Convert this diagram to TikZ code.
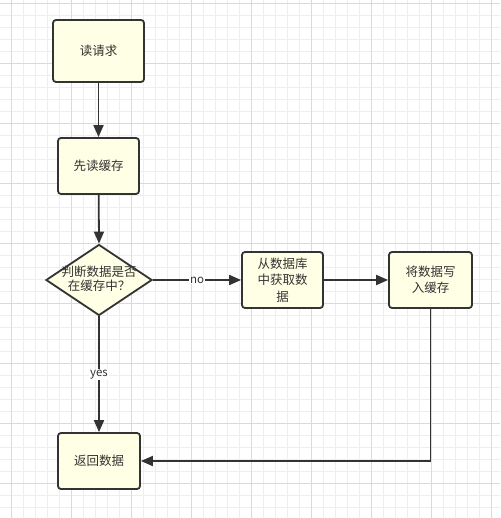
\documentclass[tikz,border=0pt]{standalone}
\usepackage{fontspec}
\setmainfont{Noto Sans CJK SC}
\usetikzlibrary{arrows.meta,shapes.geometric}
\definecolor{boxfill}{HTML}{FFFFE6}
\definecolor{ink}{HTML}{333333}
\definecolor{gridminor}{HTML}{EEEEEE}
\definecolor{gridmajor}{HTML}{DADADA}
\tikzset{
  box/.style={draw=ink, fill=boxfill, line width=1.8pt, rounded corners=3pt, inner sep=0pt, align=center, text=ink, font=\fontsize{12.5}{16.5}\selectfont},
  decision/.style={draw=ink, fill=boxfill, line width=1.8pt, diamond, inner sep=0pt, minimum width=106pt, minimum height=71pt},
  txt/.style={text=ink, align=center, inner sep=0pt, font=\fontsize{12.5}{14}\selectfont},
  conn/.style={draw=ink, line width=1.8pt, -{Triangle[length=12pt,width=10pt]}},
  lbl/.style={fill=white, text=ink, inner sep=1pt, font=\fontsize{11.5}{13}\selectfont}
}
\begin{document}
\begin{tikzpicture}[x=1pt,y=-1pt]
\useasboundingbox (0,0) rectangle (500,518);
\fill[white] (0,0) rectangle (500,518);
% grid
\foreach \i in {-1,...,41} {
  \draw[gridminor, line width=0.8pt] ({11.5+12*\i},0) -- ({11.5+12*\i},518);
}
\foreach \j in {0,...,43} {
  \draw[gridminor, line width=0.8pt] (0,{3+12*\j}) -- (500,{3+12*\j});
}
\foreach \i in {0,...,8} {
  \draw[gridmajor, line width=0.8pt] ({11.5+60*\i},0) -- ({11.5+60*\i},518);
}
\foreach \j in {0,...,8} {
  \draw[gridmajor, line width=0.8pt] (0,{3+60*\j}) -- (500,{3+60*\j});
}
% nodes
\node[box, minimum width=91pt, minimum height=62pt] (a) at (98.5,51) {读请求};
\node[box, minimum width=81pt, minimum height=56pt] (b) at (98.5,166) {先读缓存};
\node[decision] (q) at (99,280) {};
\node[txt] (qt) at (99,279) {判断数据是否\\在缓存中？};
\node[box, minimum width=81pt, minimum height=56pt] (c) at (282.5,280) {从数据库\\中获取数\\据};
\node[box, minimum width=83pt, minimum height=56pt] (d) at (430.5,280) {将数据写\\入缓存};
\node[box, minimum width=82pt, minimum height=56pt] (e) at (99,461) {返回数据};
% connectors
\draw[conn] (a) -- (b);
\draw[conn] (b) -- (q.north);
\draw[conn] (q.east) -- node[lbl, pos=0.5] {no} (c.west);
\draw[conn] (c) -- (d);
\draw[conn] (q.south) -- node[lbl, pos=0.5] {yes} (e.north);
\draw[conn] (d.south) |- (e.east);
\end{tikzpicture}
\end{document}
